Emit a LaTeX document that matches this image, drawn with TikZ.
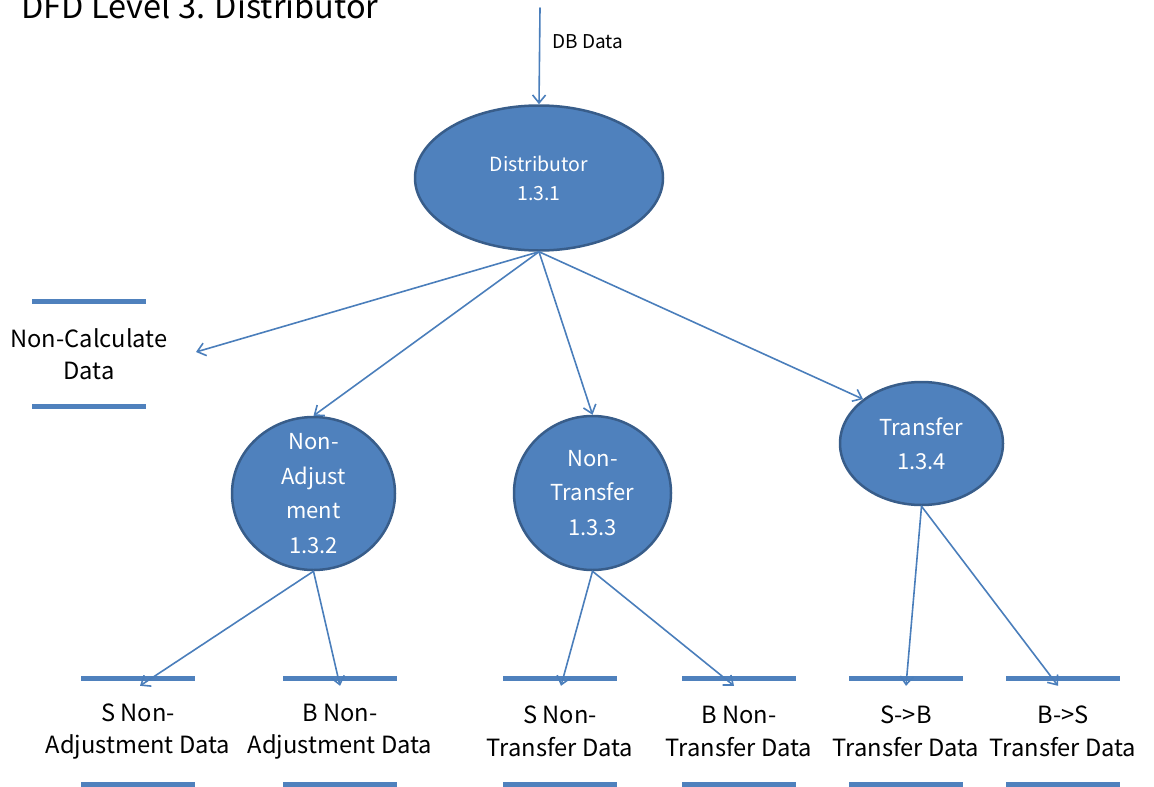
\documentclass[tikz,border=0pt]{standalone}
\usepackage{fontspec}
\setmainfont{Noto Sans CJK KR}
\usepackage{tikz}
\usetikzlibrary{arrows.meta,calc,shapes.geometric}
\definecolor{procfill}{RGB}{79,129,189}
\definecolor{procline}{RGB}{56,93,138}
\definecolor{flowblue}{RGB}{74,126,187}

\begin{document}
\begin{tikzpicture}[x=1pt, y=-1pt, line cap=round, line join=round,
  process/.style={ellipse, fill=procfill, draw=procline, line width=2.5pt,
    inner sep=0pt},
  proctext/.style={text=white, align=center, inner sep=0pt,
    font=\fontsize{22}{34.5}\selectfont},
  store/.style={minimum height=105pt, inner sep=0pt, align=center,
    font=\fontsize{23.7}{32.5}\selectfont},
  flow/.style={flowblue, line width=1.6pt,
    -{Straight Barb[length=8pt,width=13pt]}},
  storeline/.style={procfill, line width=5pt, line cap=butt}]
  \useasboundingbox (0,0) rectangle (1154,787);

  \node[anchor=base west, font=\fontsize{32.5}{40}\selectfont] (title)
    at (18,18) {DFD Level 3. Distributor};

  % Processes.
  \node[process, minimum width=248pt, minimum height=145pt] (dist) at (539,178) {};
  \node[proctext, font=\fontsize{19.5}{29}\selectfont] (distt) at (dist)
    {Distributor\\1.3.1};
  \node[process, minimum width=163pt, minimum height=153pt] (na) at (313.5,493.5) {};
  \node[proctext] (nat) at (na) {Non-\\Adjust\\ment\\1.3.2};
  \node[process, minimum width=157pt, minimum height=154pt] (nt) at (592.5,493) {};
  \node[proctext] (ntt) at (nt) {Non-\\Transfer\\1.3.3};
  \node[process, minimum width=163pt, minimum height=123pt] (tr) at (921.5,443.5) {};
  \node[proctext] (trt) at (tr) {Transfer\\1.3.4};

  % Data stores.
  \node[store] (ncd) at (89,354) {Non-Calculate\\Data};
  \node[store] (sna) at (138,731.5) {S Non-\\Adjustment Data};
  \node[store] (bna) at (340,731.5) {B Non-\\Adjustment Data};
  \node[store] (snt) at (560,731.5) {S Non-\\Transfer Data};
  \node[store] (bnt) at (739,731.5) {B Non-\\Transfer Data};
  \node[store] (sbt) at (906,731.5) {S->B\\Transfer Data};
  \node[store] (bst) at (1063,731.5) {B->S\\Transfer Data};
  \foreach \s in {ncd,sna,bna,snt,bnt,sbt,bst}{
    \draw[storeline] ($(\s.north)+(-57,0)$) -- ($(\s.north)+(57,0)$);
    \draw[storeline] ($(\s.south)+(-57,0)$) -- ($(\s.south)+(57,0)$);
  }

  % Flows.
  \coordinate (dbin) at (540,8);
  \coordinate (ncin) at (196,352);
  \draw[flow] (dbin) -- (dist.north);
  \node[anchor=west, font=\fontsize{19}{22}\selectfont] (dbl) at (549,42) {DB Data};
  \draw[flow] (dist.south) -- (ncin);
  \draw[flow] (dist.south) -- (na.north);
  \draw[flow] (dist.south) -- (nt.north);
  \draw[flow] (dist.south) -- (tr.north west);
  \foreach \a/\b/\dx in {na/sna/2, na/bna/0, nt/snt/1, nt/bnt/-5, tr/sbt/0, tr/bst/-5}
    \draw[flow] (\a.south) -- ([xshift=\dx pt, yshift=-7pt]\b.north);
\end{tikzpicture}
\end{document}
